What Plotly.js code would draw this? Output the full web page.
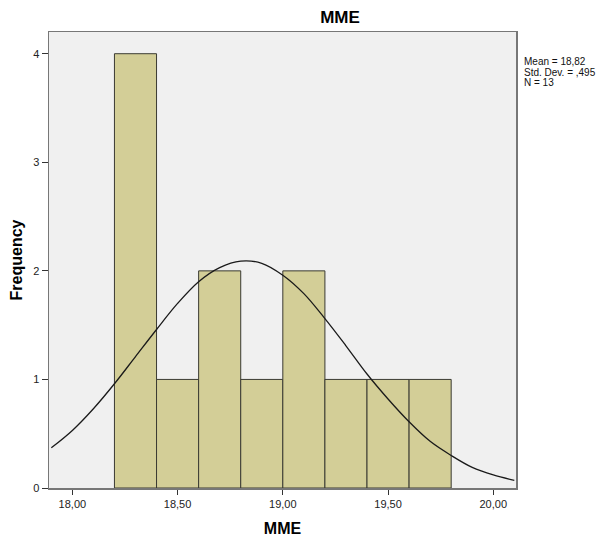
<!DOCTYPE html>
<html>
<head>
<meta charset="utf-8">
<script src="https://cdn.plot.ly/plotly-3.0.1.min.js"></script>
<style>
html,body{margin:0;padding:0;background:#fff;}
#chart{width:612px;height:537px;}
</style>
</head>
<body>
<div id="chart"></div>
<script>
// Histogram bins (centers) and frequencies
const binCenters = [18.3, 18.5, 18.7, 18.9, 19.1, 19.3, 19.5, 19.7];
const frequencies = [4, 1, 2, 1, 2, 1, 1, 1];
const binWidth = 0.2;

// Normal curve points
const curveX = [17.9, 18.0, 18.1, 18.2, 18.3, 18.4, 18.5, 18.6, 18.7, 18.8, 18.9, 19.0,
                19.1, 19.2, 19.3, 19.4, 19.5, 19.6, 19.7, 19.8, 19.9, 20.0, 20.1];
const curveY = [0.37, 0.53, 0.73, 0.96, 1.21, 1.46, 1.70, 1.90, 2.03, 2.09, 2.07, 1.96,
                1.79, 1.56, 1.31, 1.05, 0.82, 0.61, 0.43, 0.30, 0.19, 0.12, 0.07];

// Tick labels
const xTickVals = [18.0, 18.5, 19.0, 19.5, 20.0];
const yTickVals = [0, 1, 2, 3, 4];

const statsLines = ['Mean = 18,82', 'Std. Dev. = ,495', 'N = 13'];

const traces = [
  {
    type: 'bar',
    x: binCenters,
    y: frequencies,
    width: frequencies.map(() => binWidth),
    marker: {color: '#d3ce97', line: {color: '#3a3a32', width: 1}},
    hoverinfo: 'x+y'
  },
  {
    type: 'scatter',
    mode: 'lines',
    x: curveX,
    y: curveY,
    line: {color: '#1a1a1a', width: 1.3, shape: 'spline'},
    hoverinfo: 'skip'
  }
];

const font = 'Arial, "Liberation Sans", sans-serif';

const annotations = statsLines.map((t, i) => ({
  text: t,
  xref: 'paper', yref: 'paper',
  x: 1, xshift: 6,
  y: 1, yshift: -(29.5 + i * 10.5),
  xanchor: 'left', yanchor: 'middle',
  showarrow: false,
  font: {family: font, size: 10, color: '#111'}
}));

const layout = {
  width: 612,
  height: 537,
  margin: {l: 49, r: 96, t: 32, b: 49},
  paper_bgcolor: '#ffffff',
  plot_bgcolor: '#f0f0f0',
  separators: ',.',
  showlegend: false,
  bargap: 0,
  title: {
    text: '<b>MME</b>',
    font: {family: font, size: 17, color: '#000'},
    xref: 'container', x: 340 / 612, xanchor: 'center',
    yref: 'container', y: 1 - 17 / 537, yanchor: 'middle'
  },
  xaxis: {
    range: [17.889, 20.108],
    tickvals: xTickVals,
    tickformat: '.2f',
    ticks: 'outside', ticklen: 5, tickcolor: '#333', tickwidth: 1,
    tickfont: {family: font, size: 11, color: '#222'},
    showgrid: false, zeroline: false,
    showline: true, mirror: true, linecolor: '#777', linewidth: 1.5,
    title: {text: '<b>MME</b>', font: {family: font, size: 16, color: '#000'}, standoff: 16}
  },
  yaxis: {
    range: [0, 4.2],
    tickvals: yTickVals,
    tickformat: 'd',
    ticks: 'outside', ticklen: 6, tickcolor: '#333', tickwidth: 1,
    tickfont: {family: font, size: 11, color: '#222'},
    showgrid: false, zeroline: false,
    showline: true, mirror: true, linecolor: '#777', linewidth: 1.5,
    title: {text: '<b>Frequency</b>', font: {family: font, size: 16, color: '#000'}, standoff: 6}
  },
  annotations: annotations
};

Plotly.newPlot('chart', traces, layout, {displayModeBar: false, staticPlot: true});
</script>
</body>
</html>
